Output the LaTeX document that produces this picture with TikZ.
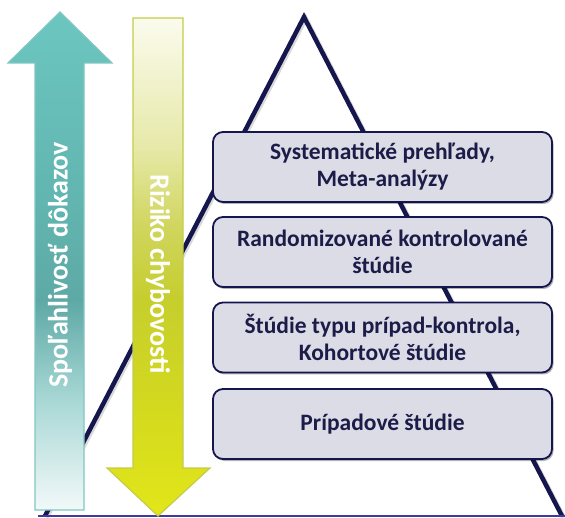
\documentclass[tikz,border=0pt]{standalone}
\usepackage{fontspec}
\setmainfont{Carlito}
\usetikzlibrary{shadows}

\definecolor{navy}{HTML}{16164E}
\definecolor{boxfill}{HTML}{DCDCE6}
\definecolor{boxtext}{HTML}{1C1C48}
\definecolor{baseblue}{HTML}{3C3CA0}
\definecolor{tealedge}{HTML}{80C6C2}
\definecolor{yellowedge}{HTML}{C4CC48}

% teal arrow: pale at the bottom, teal towards the head
\pgfdeclareverticalshading{tealgrad}{100bp}{%
  color(0bp)=(white!95!teal);
  color(25bp)=(white!95!teal);
  color(36bp)=(rgb,255:red,168;green,216;blue,213);
  color(46bp)=(rgb,255:red,94;green,169;blue,166);
  color(56bp)=(rgb,255:red,98;green,181;blue,176);
  color(75bp)=(rgb,255:red,108;green,198;blue,192);
  color(100bp)=(rgb,255:red,108;green,198;blue,192)}

% yellow arrow: pale at the top, bright yellow-green at the head
\pgfdeclareverticalshading{yellowgrad}{100bp}{%
  color(0bp)=(rgb,255:red,226;green,230;blue,25);
  color(25bp)=(rgb,255:red,226;green,230;blue,25);
  color(37bp)=(rgb,255:red,210;green,216;blue,31);
  color(47bp)=(rgb,255:red,198;green,206;blue,46);
  color(54bp)=(rgb,255:red,208;green,213;blue,94);
  color(62bp)=(rgb,255:red,230;green,233;blue,168);
  color(75bp)=(rgb,255:red,251;green,251;blue,238);
  color(100bp)=(rgb,255:red,251;green,251;blue,238)}

\tikzset{
  level/.style={draw=navy, line width=1.8pt, fill=boxfill, rounded corners=10pt,
    minimum width=339pt, minimum height=70pt, align=center,
    text=boxtext, font=\fontsize{23.5}{27}\selectfont\bfseries,
    drop shadow={shadow xshift=1.5pt, shadow yshift=-2pt, opacity=0.3, fill=black}},
  pyramidline/.style={draw=navy, line width=4.5pt, line join=miter},
  arrowtext/.style={text=white, font=\fontsize{28}{30}\selectfont\bfseries, inner sep=0pt}
}

\begin{document}
\begin{tikzpicture}[x=1pt, y=1pt]
\useasboundingbox (0,0) rectangle (565,517);

% pyramid outline
\coordinate (apex) at (304,500);
\coordinate (baseL) at (45,1);
\coordinate (baseR) at (562,1);
\coordinate (floorL) at (38,1);
\coordinate (floorR) at (565,1);
\draw[black, opacity=0.15, line width=5pt] ([xshift=1.5pt,yshift=-1.5pt]baseL) -- ([xshift=1.5pt,yshift=-1.5pt]apex) -- ([xshift=1.5pt,yshift=-1.5pt]baseR);
\draw[pyramidline] (baseL) -- (apex) -- (baseR);
\draw[baseblue, line width=1.5pt] (floorL) -- (floorR);

% levels of evidence
\node[level] (sr)  at (382.5,350)   {Systematické prehľady,\\Meta-analýzy};
\node[level] (rct) at (382.5,265)   {Randomizované kontrolované\\štúdie};
\node[level] (coh) at (382.5,179.5) {Štúdie typu prípad-kontrola,\\Kohortové štúdie};
\node[level] (cas) at (382.5,93)    {Prípadové štúdie};

% reliability arrow (up)
\path[shading=tealgrad, draw=tealedge, line width=1.2pt]
  (35,7) -- (35,454) -- (8,454) -- (60,505) -- (112,454) -- (84,454) -- (84,7) -- cycle;
\node[arrowtext, rotate=90] (rel) at (60,252) {Spoľahlivosť dôkazov};

% bias arrow (down)
\path[shading=yellowgrad, draw=yellowedge, line width=1.2pt]
  (133,499) -- (183,499) -- (183,49) -- (210,49) -- (158,1) -- (107,49) -- (133,49) -- cycle;
\node[arrowtext, rotate=-90] (bias) at (158,243) {Riziko chybovosti};
\end{tikzpicture}
\end{document}
